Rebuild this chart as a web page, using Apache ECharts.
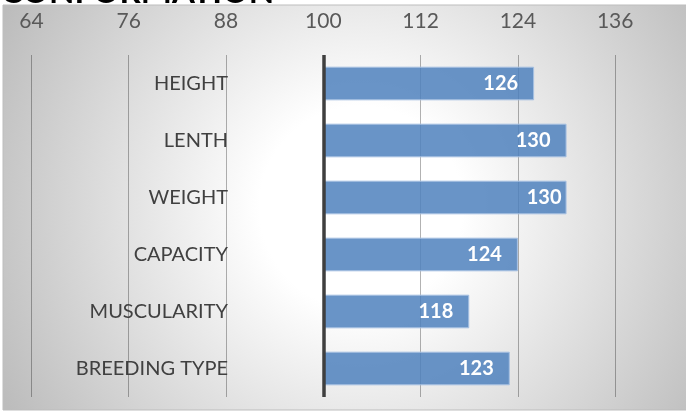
<!DOCTYPE html>
<html>
<head>
<meta charset="utf-8">
<script src="https://cdn.jsdelivr.net/npm/echarts@6/dist/echarts.min.js"></script>
<style>
html,body{margin:0;padding:0;background:#fff;}
#c{width:686px;height:415px;}
</style>
</head>
<body>
<div id="c"></div>
<script>
const title = 'CONFORMATION';
const categories = ['HEIGHT', 'LENTH', 'WEIGHT', 'CAPACITY', 'MUSCULARITY', 'BREEDING TYPE'];
const values = [126, 130, 130, 124, 118, 123];
const baseline = 100;
const axisMin = 64;
const axisMax = 136;
const axisStep = 12;

const chart = echarts.init(document.getElementById('c'), null, {renderer: 'canvas'});
const FONT = 'Lato';

const option = {
  animation: false,
  backgroundColor: '#ffffff',
  graphic: [
    {
      type: 'rect', z: -100, silent: true,
      shape: {x: 3, y: 5, width: 716, height: 405},
      style: {
        fill: new echarts.graphic.RadialGradient(0.5, 0.5, 1.0, [
          {offset: 0, color: '#ffffff'},
          {offset: 0.25, color: '#ffffff'},
          {offset: 1, color: '#bcbcbc'}
        ]),
        stroke: '#bdbdbd', lineWidth: 1
      }
    },
    {
      type: 'text', z: 100, silent: true,
      x: 1, y: -8,
      style: {
        text: title, fill: '#000000',
        font: 'bold 33px ' + FONT,
        align: 'left', verticalAlign: 'middle'
      }
    }
  ],
  grid: {left: 31.4, right: 70.8, top: 55, bottom: 18, containLabel: false},
  xAxis: {
    type: 'value', position: 'top',
    min: axisMin, max: axisMax, interval: axisStep,
    axisLine: {show: false}, axisTick: {show: false},
    axisLabel: {color: '#595959', fontFamily: FONT, fontSize: 21, margin: 23},
    splitLine: {show: true, lineStyle: {color: 'rgba(0,0,0,0.3)', width: 1}}
  },
  yAxis: {
    type: 'category', data: categories, inverse: true,
    axisLine: {show: false}, axisTick: {show: false},
    axisLabel: {color: '#404040', fontFamily: FONT, fontSize: 20, margin: -196.6, align: 'right'},
    splitLine: {show: false}
  },
  series: [
    {
      type: 'bar', stack: 'a', silent: true,
      data: values.map(() => baseline),
      itemStyle: {color: 'transparent'},
      barCategoryGap: '41%'
    },
    {
      type: 'bar', stack: 'a',
      data: values.map((v, i) => i === 2 ? {value: v - baseline, label: {distance: 5}} : v - baseline),
      barCategoryGap: '41%',
      itemStyle: {color: 'rgba(79,129,189,0.85)', borderColor: '#a6c0e2', borderWidth: 1},
      label: {
        show: true, position: 'insideRight', distance: 16,
        color: '#ffffff', fontFamily: FONT, fontWeight: 'bold', fontSize: 20,
        formatter: p => String(values[p.dataIndex])
      },
      markLine: {
        silent: true, symbol: 'none',
        label: {show: false},
        lineStyle: {color: '#3f3f3f', width: 3.5, type: 'solid'},
        data: [{xAxis: baseline}]
      }
    }
  ]
};
chart.setOption(option);
</script>
</body>
</html>
